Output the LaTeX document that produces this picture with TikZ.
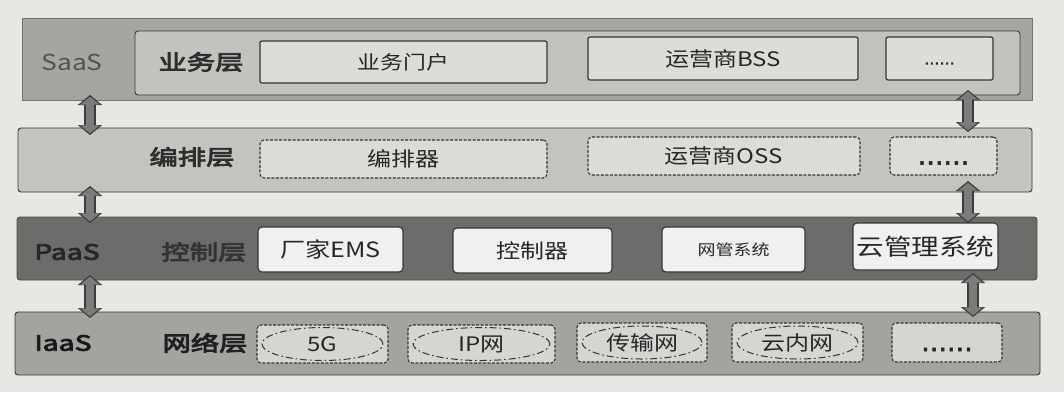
\documentclass[tikz,border=0pt]{standalone}
\usepackage{fontspec}
\setmainfont{Noto Sans CJK SC}
\newfontfamily\fR[FakeStretch=1.2]{Noto Sans CJK SC}
\newfontfamily\fB[FakeStretch=1.35,FakeBold=4]{Noto Sans CJK SC}
\newfontfamily\fD[FakeBold=2]{DejaVu Sans}
\usetikzlibrary{arrows.meta,fit,shapes.geometric,calc}
\definecolor{bg}{HTML}{E8E7E3}
\definecolor{saasout}{HTML}{A6A5A2}
\definecolor{saasin}{HTML}{C3C2BF}
\definecolor{orchband}{HTML}{C4C3C0}
\definecolor{paasband}{HTML}{6D6C6A}
\definecolor{iaasband}{HTML}{A4A3A0}
\definecolor{sboxfill}{HTML}{DDDCD9}
\definecolor{oboxfill}{HTML}{DCDBD8}
\definecolor{pboxfill}{HTML}{F1F0EE}
\definecolor{nboxfill}{HTML}{D6D5D2}
\definecolor{edge}{HTML}{353535}
\definecolor{arrdark}{HTML}{3C3C3C}
\definecolor{arrfill}{HTML}{7D7C7A}
\tikzset{
  band/.style={inner sep=0pt, outer sep=0pt, draw=edge, line width=0.9pt, rounded corners=3pt},
  sbox/.style={inner sep=0pt, outer sep=0pt, draw=edge, line width=1.2pt, rounded corners=2pt, fill=sboxfill},
  obox/.style={inner sep=0pt, outer sep=0pt, draw=edge, line width=1.1pt, dash pattern=on 3pt off 1.5pt, rounded corners=4pt, fill=oboxfill},
  pbox/.style={inner sep=0pt, outer sep=0pt, draw=edge, line width=1.1pt, rounded corners=4pt, fill=pboxfill},
  nbox/.style={inner sep=0pt, outer sep=0pt, draw=edge, line width=1.1pt, dash pattern=on 3pt off 1.5pt, rounded corners=4pt, fill=nboxfill},
  btext/.style={inner sep=0pt, font=\fR\fontsize{20}{23}\selectfont, text=black!85},
  dots/.style={inner sep=0pt, font=\fD\fontsize{27}{27}\selectfont, text=black!85},
  ell/.style={ellipse, draw=edge, line width=1pt, dash pattern=on 7pt off 3pt on 1.5pt off 3pt, inner sep=0pt},
  lblB/.style={font=\fB\fontsize{21}{24}\selectfont, text=black!82, inner sep=0pt},
  lblR/.style={font=\fR\fontsize{22}{25}\selectfont, text=black!68, inner sep=0pt},
  arrO/.style={draw=arrdark, line width=12pt, {Triangle[width=24pt,length=10pt]}-{Triangle[width=24pt,length=10pt]}},
  arrI/.style={draw=arrfill, line width=8pt, shorten <=1.6pt, shorten >=1.6pt, {Triangle[width=19pt,length=8pt]}-{Triangle[width=19pt,length=8pt]}}
}
\newcommand\dblarrow[2]{\draw[arrO] #1 -- #2; \draw[arrI] #1 -- #2;}
\begin{document}
\begin{tikzpicture}[x=1pt,y=-1pt]
\fill[bg] (0,0) rectangle (1064,392);
\useasboundingbox (0,0) rectangle (1064,392);
\coordinate (xl) at (90,0);
\coordinate (xr) at (968,0);
\coordinate (xr2) at (973,0);

% bands
\node[band, fill=saasout, draw=black!55, rounded corners=0pt, fit={(22,18) (1032,100)}] (saas) {};
\node[band, fill=saasin, fit={(135,31) (1020,95)}] (bizl) {};
\node[band, fill=orchband, fit={(18,128) (1032,192)}] (orch) {};
\node[band, fill=paasband, draw=black!70, fit={(17,217) (1037,280)}] (paas) {};
\node[band, fill=iaasband, fit={(15,312) (1040,375)}] (iaas) {};

% layer labels
\node[lblR] (tsaas) at (72,62) {SaaS};
\node[lblB] (tbiz) at (201,62) {业务层};
\node[lblB] (torch) at (192,157) {编排层};
\node[lblB, text=black!85] (tpaas) at (67,252) {PaaS};
\node[lblB, text=black!80] (tctl) at (204,252) {控制层};
\node[lblB, text=black!90] (tiaas) at (63,343) {IaaS};
\node[lblB, text=black!88] (tnet) at (205,343) {网络层};

% SaaS boxes
\node[sbox, fit={(260,41) (547,83)}] (b1) {};
\node[btext, font=\fR\fontsize{19}{22}\selectfont] (b1t) at (b1.center) {业务门户};
\node[sbox, fit={(588,37) (858,80)}] (b2) {};
\node[btext] (b2t) at (b2.center) {运营商BSS};
\node[sbox, fit={(886,37) (993,80)}] (b3) {};
\node[btext, font=\fD\fontsize{16}{16}\selectfont] (b3t) at ($(b3.center)+(0,5)$) {......};

% orchestration boxes
\node[obox, fit={(260,140) (547,178)}] (o1) {};
\node[btext] (o1t) at (o1.center) {编排器};
\node[obox, fit={(588,137) (860,175)}] (o2) {};
\node[btext] (o2t) at (o2.center) {运营商OSS};
\node[obox, fit={(890,137) (997,175)}] (o3) {};
\node[dots] (o3t) at ($(o3.center)+(0,7)$) {......};

% control boxes
\node[pbox, fit={(258,227) (403,272)}] (p1) {};
\node[btext, font=\fR\fontsize{21}{23}\selectfont] (p1t) at (p1.center) {厂家EMS};
\node[pbox, fit={(453,228) (612,273)}] (p2) {};
\node[btext] (p2t) at (p2.center) {控制器};
\node[pbox, fit={(662,227) (805,272)}] (p3) {};
\node[btext, font=\fR\fontsize{15}{17}\selectfont] (p3t) at (p3.center) {网管系统};
\node[pbox, fit={(853,223) (998,270)}] (p4) {};
\node[btext, font=\fR\fontsize{23}{26}\selectfont] (p4t) at (p4.center) {云管理系统};

% network boxes
\node[nbox, fit={(257,325) (388,363)}] (n1) {};
\node[nbox, fit={(408,325) (555,363)}] (n2) {};
\node[nbox, fit={(577,323) (707,362)}] (n3) {};
\node[nbox, fit={(732,323) (863,362)}] (n4) {};
\node[nbox, fit={(892,323) (1002,362)}] (n5) {};
\node[ell, minimum width=121pt, minimum height=33pt] (e1) at (n1.center) {};
\node[ell, minimum width=137pt, minimum height=33pt] (e2) at (n2.center) {};
\node[ell, minimum width=120pt, minimum height=33pt] (e3) at (n3.center) {};
\node[ell, minimum width=121pt, minimum height=33pt] (e4) at (n4.center) {};
\node[btext] (n1t) at (n1.center) {5G};
\node[btext] (n2t) at (n2.center) {IP网};
\node[btext] (n3t) at (n3.center) {传输网};
\node[btext] (n4t) at (n4.center) {云内网};
\node[dots] (n5t) at ($(n5.center)+(0,7)$) {......};

% arrows
\dblarrow{($(saas.south -| xl)+(0,-5)$)}{($(orch.north -| xl)+(0,7)$)}
\dblarrow{($(orch.south -| xl)+(0,-6)$)}{($(paas.north -| xl)+(0,6)$)}
\dblarrow{($(paas.south -| xl)+(0,-5)$)}{($(iaas.north -| xl)+(0,6)$)}
\dblarrow{($(b3.south -| xr)+(0,10)$)}{($(orch.north -| xr)+(0,4)$)}
\dblarrow{($(o3.south -| xr)+(0,6)$)}{($(p4.north -| xr)+(0,0)$)}
\dblarrow{($(p4.south -| xr2)+(0,3)$)}{($(iaas.north -| xr2)+(0,5)$)}
\end{tikzpicture}
\end{document}
